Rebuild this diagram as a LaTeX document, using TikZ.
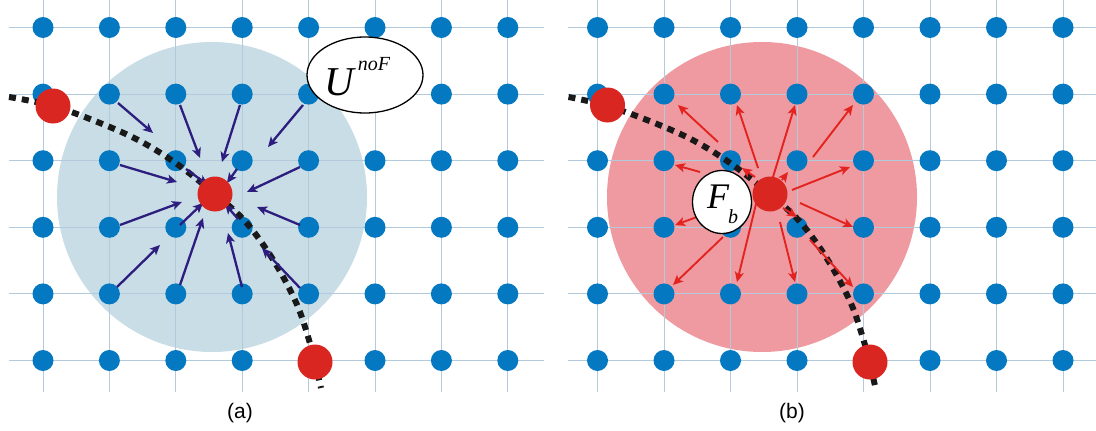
\documentclass[tikz,border=0pt]{standalone}
\usepackage{fontspec}
\setmainfont{Liberation Serif}
\setsansfont{Liberation Sans}
\usetikzlibrary{arrows.meta,shapes.geometric}
\definecolor{gridc}{HTML}{B2CADB}
\definecolor{bluedot}{HTML}{0479C1}
\definecolor{reddot}{HTML}{D92620}
\definecolor{circA}{HTML}{C9DDE6}
\definecolor{circB}{HTML}{EE9AA0}
\definecolor{arrA}{HTML}{2C1D7E}
\definecolor{arrB}{HTML}{E3231F}
\tikzset{
  gridline/.style={draw=gridc, line width=0.9pt},
  bdot/.style={circle, fill=bluedot, inner sep=0pt, minimum size=21pt},
  rdot/.style={circle, fill=reddot, inner sep=0pt, minimum size=35pt},
  dashcurve/.style={line width=6pt, dash pattern=on 7pt off 6pt, black!90},
  arrowA/.style={draw=arrA, line width=2.3pt, -{Stealth[length=10pt,width=9pt,inset=2.5pt]}},
  arrowB/.style={draw=arrB, line width=1.9pt, -{Stealth[length=10pt,width=9pt,inset=2.5pt]}},
  labelell/.style={ellipse, draw=black, fill=white, line width=1.3pt, inner sep=0pt},
  caption/.style={font=\sffamily\fontsize{21}{21}\selectfont}
}
\begin{document}
\begin{tikzpicture}[x=1pt,y=-1pt]
\useasboundingbox (0,0) rectangle (1096,431);
\fill[white] (0,0) rectangle (1096,431);

% ---------------- panel (a) ----------------
\fill[circA] (212,197) circle[radius=155pt];
\foreach \r in {0,...,5} \draw[gridline] (9,27.5+66.6*\r) -- (544,27.5+66.6*\r);
\foreach \c in {0,...,7} \draw[gridline] (43+66.4*\c,0) -- (43+66.4*\c,392);
\foreach \r in {0,...,5} \foreach \c in {0,...,7}
  \node[bdot] (a-\r-\c) at (43+66.4*\c,27.5+66.6*\r) {};
\draw[dashcurve] plot[smooth, tension=0.6] coordinates {(9,97) (53,106) (100,123) (140,141) (177,164) (215,194) (242,218) (262,243) (281,273) (298,307) (309,340) (315,362) (321,388)};
\foreach \xa/\ya/\xb/\yb in {118/103/153/133, 180/105/200/158, 240/105/222/162, 303/105/268/147,
  120/165/177/182, 186/169/208/185, 237/169/227/183, 300/167/247/192,
  120/225/182/202, 180/225/203/203, 238/219/225/204, 300/225/257/207,
  117/287/160/245, 180/285/203/218, 242/287/228/233, 300/288/262/248}
  \draw[arrowA] (\xa,\ya) -- (\xb,\yb);
\node[rdot] (a-c) at (215,194) {};
\node[rdot] (a-e1) at (53,106) {};
\node[rdot] (a-e2) at (315,362) {};
\node[labelell, minimum width=116pt, minimum height=76pt] (unof) at (365,75) {};
\node[anchor=base west, inner sep=0pt] (unoft) at (324,95)
  {{\fontsize{41}{41}\selectfont\itshape U}\hspace{4pt}\raisebox{25pt}{\fontsize{20}{20}\selectfont\itshape noF}};
\node[caption] (capa) at (240,413) {(a)};

% ---------------- panel (b) ----------------
\fill[circB] (762,197) circle[radius=155pt];
\foreach \r in {0,...,5} \draw[gridline] (568,27.5+66.6*\r) -- (1096,27.5+66.6*\r);
\foreach \c in {0,...,7} \draw[gridline] (597.5+66.5*\c,0) -- (597.5+66.5*\c,392);
\foreach \r in {0,...,5} \foreach \c in {0,...,7}
  \node[bdot] (b-\r-\c) at (597.5+66.5*\c,27.5+66.6*\r) {};
\begin{scope}[xshift=554.5pt]
\draw[dashcurve] plot[smooth, tension=0.6] coordinates {(14,97) (53,106) (100,123) (140,141) (177,164) (215,194) (242,218) (262,243) (281,273) (298,307) (309,340) (315,362) (321,388)};
\end{scope}
\foreach \xa/\ya/\xb/\yb in {718/142/678/105, 758/168/737/105, 773/177/795/105, 813/157/853/105,
  700/172/675/165, 755/177/742/168, 782/180/788/172, 792/190/850/167,
  697/217/675/225, 783/208/797/217, 800/203/853/227,
  723/237/673/285, 757/200/737/282, 780/222/795/282, 810/240/853/287}
  \draw[arrowB] (\xa,\ya) -- (\xb,\yb);
\node[rdot] (b-c) at (770,194) {};
\node[rdot] (b-e1) at (607.5,105) {};
\node[rdot] (b-e2) at (870,362) {};
\node[labelell, minimum width=59pt, minimum height=63pt] (fb) at (722,202) {};
\node[anchor=base west, inner sep=0pt] (fbt) at (707,208)
  {{\fontsize{36}{36}\selectfont\itshape F}\hspace{-1pt}\raisebox{-15pt}{\fontsize{20}{20}\selectfont\itshape b}};
\node[caption] (capb) at (792,413) {(b)};
\end{tikzpicture}
\end{document}
